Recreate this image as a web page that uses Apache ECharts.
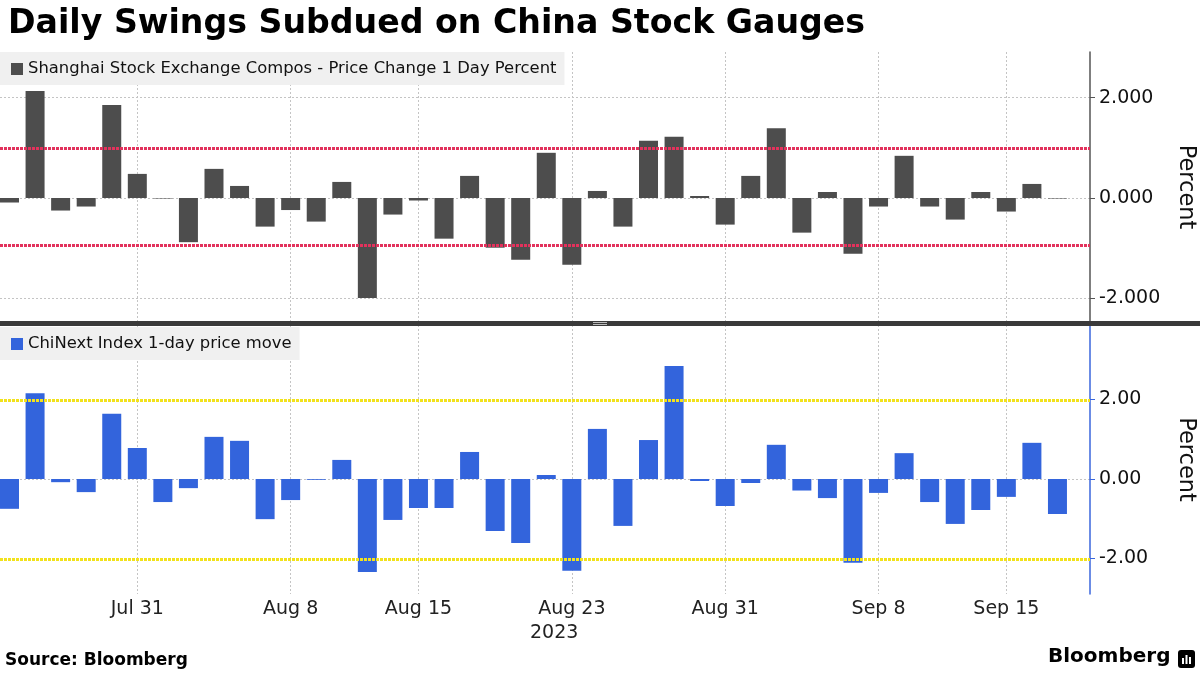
<!DOCTYPE html>
<html>
<head>
<meta charset="utf-8">
<script src="https://cdn.jsdelivr.net/npm/echarts@6/dist/echarts.min.js"></script>
<style>
  html, body { margin: 0; padding: 0; background: #fff; }
  #chart { width: 1200px; height: 675px; }
</style>
</head>
<body>
<div id="chart"></div>
<script>
// trading days, Jul 24 - Sep 19 2023
var dates = [
  "Jul 24", "Jul 25", "Jul 26", "Jul 27", "Jul 28", "Jul 31",
  "Aug 1", "Aug 2", "Aug 3", "Aug 4", "Aug 7", "Aug 8", "Aug 9", "Aug 10", "Aug 11",
  "Aug 14", "Aug 15", "Aug 16", "Aug 17", "Aug 18", "Aug 21", "Aug 22", "Aug 23",
  "Aug 24", "Aug 25", "Aug 28", "Aug 29", "Aug 30", "Aug 31",
  "Sep 1", "Sep 4", "Sep 5", "Sep 6", "Sep 7", "Sep 8",
  "Sep 11", "Sep 12", "Sep 13", "Sep 14", "Sep 15", "Sep 18", "Sep 19"
];
var tickDates = ["Jul 31", "Aug 8", "Aug 15", "Aug 23", "Aug 31", "Sep 8", "Sep 15"];

var shanghaiValues = [
  -0.09, 2.13, -0.25, -0.17, 1.85, 0.48, -0.01, -0.88, 0.58, 0.24,
  -0.57, -0.24, -0.47, 0.32, -1.99, -0.33, -0.05, -0.81, 0.44, -0.99,
  -1.23, 0.90, -1.33, 0.14, -0.57, 1.14, 1.22, 0.04, -0.53, 0.44,
  1.39, -0.69, 0.12, -1.11, -0.17, 0.84, -0.17, -0.43, 0.12, -0.27,
  0.28, -0.01
];
var chinextValues = [
  -0.75, 2.16, -0.08, -0.33, 1.64, 0.78, -0.58, -0.23, 1.06, 0.96,
  -1.01, -0.53, -0.02, 0.48, -2.34, -1.03, -0.73, -0.73, 0.68, -1.31,
  -1.61, 0.10, -2.31, 1.26, -1.18, 0.98, 2.84, -0.05, -0.68, -0.10,
  0.86, -0.29, -0.48, -2.11, -0.35, 0.65, -0.58, -1.13, -0.78, -0.45,
  0.91, -0.88
];
var shanghaiBands = [0.99, -0.94];
var chinextBands = [1.99, -2.01];
var shanghaiTicks = [-2, 0, 2];
var chinextTicks = [-2, 0, 2];

var FONT = "DejaVu Sans";
var tickIdx = tickDates.map(function (d) { return dates.indexOf(d); });

function pairs(values) {
  return values.map(function (v, i) { return [i, v]; });
}

var chart = echarts.init(document.getElementById("chart"));

var xCommon = {
  type: "value",
  min: -0.372,
  max: 42.273,
  axisLine: { show: false },
  axisTick: { show: false, customValues: tickIdx },
  splitLine: {
    show: true,
    lineStyle: { color: "#c4c4c4", type: [2, 2], width: 1 },
  },
};

var option = {
  animation: false,
  backgroundColor: "#ffffff",
  title: {
    text: "Daily Swings Subdued on China Stock Gauges",
    left: 3,
    top: 3,
    textStyle: { fontFamily: FONT, fontWeight: "bold", fontSize: 33.2, color: "#000" },
  },
  legend: [
    {
      left: 0,
      top: 52,
      data: ["Shanghai Stock Exchange Compos - Price Change 1 Day Percent"],
      icon: "rect",
      itemWidth: 12,
      itemHeight: 12,
      padding: [9, 8, 8, 11],
      backgroundColor: "#f0f0f0",
      textStyle: { fontFamily: FONT, fontSize: 16.4, color: "#111" },
    },
    {
      left: 0,
      top: 327,
      data: ["ChiNext Index 1-day price move"],
      icon: "rect",
      itemWidth: 12,
      itemHeight: 12,
      padding: [9, 8, 8, 11],
      backgroundColor: "#f0f0f0",
      textStyle: { fontFamily: FONT, fontSize: 16.4, color: "#111" },
    },
  ],
  grid: [
    { left: 0, right: 110, top: 52, height: 270, outerBoundsMode: "none" },
    { left: 0, right: 110, top: 325, height: 269, outerBoundsMode: "none" },
  ],
  xAxis: [
    Object.assign({ gridIndex: 0, axisLabel: { show: false } }, xCommon),
    Object.assign({}, xCommon, {
      gridIndex: 1,
      axisLabel: {
        show: true,
        customValues: tickIdx,
        margin: 6,
        fontFamily: FONT,
        fontSize: 19,
        color: "#222",
        formatter: function (v) { return dates[Math.round(v)]; },
      },
    }),
  ],
  yAxis: [
    {
      gridIndex: 0,
      type: "value",
      position: "right",
      min: -2.47,
      max: 2.908,
      name: "Percent",
      nameLocation: "middle",
      nameRotate: -90,
      nameGap: 84,
      nameTextStyle: { fontFamily: FONT, fontSize: 22.5, color: "#111" },
      axisLine: { show: true, onZero: false, lineStyle: { color: "#555", width: 1.5 } },
      axisTick: { show: true, length: 5, customValues: shanghaiTicks, lineStyle: { color: "#555" } },
      axisLabel: {
        customValues: shanghaiTicks,
        margin: 9,
        fontFamily: FONT,
        fontSize: 19,
        color: "#111",
        formatter: function (v) { return v.toFixed(3); },
      },
      splitLine: { show: true, lineStyle: { color: "#c4c4c4", type: [2, 2] } },
    },
    {
      gridIndex: 1,
      type: "value",
      position: "right",
      min: -2.893,
      max: 3.874,
      name: "Percent",
      nameLocation: "middle",
      nameRotate: -90,
      nameGap: 84,
      nameTextStyle: { fontFamily: FONT, fontSize: 22.5, color: "#111" },
      axisLine: { show: true, onZero: false, lineStyle: { color: "#3a66dd", width: 1.5 } },
      axisTick: { show: true, length: 5, customValues: chinextTicks, lineStyle: { color: "#3a66dd" } },
      axisLabel: {
        customValues: chinextTicks,
        margin: 9,
        fontFamily: FONT,
        fontSize: 19,
        color: "#111",
        formatter: function (v) { return v.toFixed(2); },
      },
      splitLine: { show: true, lineStyle: { color: "#c4c4c4", type: [2, 2] } },
    },
  ],
  series: [
    {
      name: "Shanghai Stock Exchange Compos - Price Change 1 Day Percent",
      type: "bar",
      xAxisIndex: 0,
      yAxisIndex: 0,
      data: pairs(shanghaiValues),
      barWidth: 19,
      itemStyle: { color: "#4d4d4d" },
      markLine: {
        silent: true,
        symbol: "none",
        label: { show: false },
        lineStyle: { color: "#e2325c", type: [3, 1], width: 3 },
        data: shanghaiBands.map(function (v) { return { yAxis: v }; }),
      },
    },
    {
      name: "ChiNext Index 1-day price move",
      type: "bar",
      xAxisIndex: 1,
      yAxisIndex: 1,
      data: pairs(chinextValues),
      barWidth: 19,
      itemStyle: { color: "#3364dc" },
      markLine: {
        silent: true,
        symbol: "none",
        label: { show: false },
        lineStyle: { color: "#f2e21c", type: [3, 1], width: 3 },
        data: chinextBands.map(function (v) { return { yAxis: v }; }),
      },
    },
  ],
  graphic: [
    // panel divider
    { type: "rect", left: 0, top: 321, shape: { width: 1200, height: 5 }, style: { fill: "#3a3a3a" }, z: 100 },
    { type: "line", shape: { x1: 593, y1: 322.5, x2: 607, y2: 322.5 }, style: { stroke: "#bbbbbb", lineWidth: 1 }, z: 101 },
    { type: "line", shape: { x1: 593, y1: 324.5, x2: 607, y2: 324.5 }, style: { stroke: "#bbbbbb", lineWidth: 1 }, z: 101 },
    {
      type: "text",
      left: 530,
      top: 624,
      style: { text: "2023", fontFamily: FONT, fontSize: 19, fill: "#222" },
    },
    {
      type: "text",
      left: 5,
      top: 652,
      style: { text: "Source: Bloomberg", fontFamily: FONT, fontWeight: "bold", fontSize: 17, fill: "#000" },
    },
    {
      type: "text",
      left: 1048,
      top: 647,
      style: { text: "Bloomberg", fontFamily: FONT, fontWeight: "bold", fontSize: 20, fill: "#000" },
    },
    {
      type: "group",
      left: 1178,
      top: 650,
      children: [
        { type: "rect", shape: { x: 0, y: 0, width: 17, height: 18, r: 3 }, style: { fill: "#000" } },
        { type: "rect", shape: { x: 4, y: 8, width: 2, height: 6 }, style: { fill: "#fff" } },
        { type: "rect", shape: { x: 7.5, y: 5, width: 2, height: 9 }, style: { fill: "#fff" } },
        { type: "rect", shape: { x: 11, y: 7, width: 2, height: 7 }, style: { fill: "#fff" } },
      ],
    },
  ],
};

chart.setOption(option);
</script>
</body>
</html>
